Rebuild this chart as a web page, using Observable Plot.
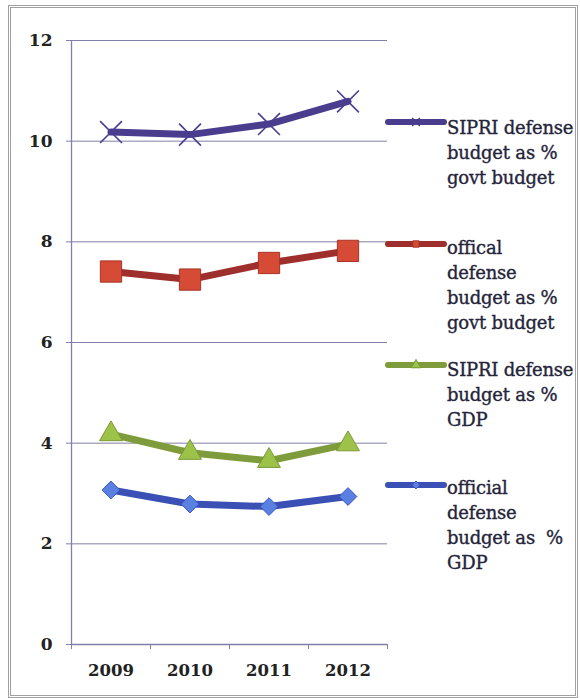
<!DOCTYPE html>
<html>
<head>
<meta charset="utf-8">
<script src="https://cdn.jsdelivr.net/npm/d3@7"></script>
<script src="https://cdn.jsdelivr.net/npm/@observablehq/plot@0.6"></script>
<style>
  body { margin: 0; background: #fff; }
  #wrap { position: relative; width: 580px; height: 698px; overflow: hidden; }
  #frame { position: absolute; left: 8px; top: 5px; width: 564px; height: 687px; border: 3px double #a0a0a0; pointer-events: none; }
  .leg { position: absolute; left: 447px; font-family: "DejaVu Serif", serif; font-size: 18px; line-height: 25px; color: #24243a; white-space: nowrap; -webkit-text-stroke: 0.35px #24243a; letter-spacing: -0.2px; }
  .sw { position: absolute; left: 385px; }
</style>
</head>
<body>
<div id="wrap"><div id="frame"></div></div>
<script>
const years = [2009, 2010, 2011, 2012];
const sipriGovt = [10.18, 10.13, 10.34, 10.79];
const officialGovt = [7.41, 7.25, 7.58, 7.82];
const sipriGdp = [4.18, 3.81, 3.65, 3.98];
const officialGdp = [3.07, 2.79, 2.74, 2.94];
const seriesNames = [
  "SIPRI defense budget as % govt budget",
  "offical defense budget as % govt budget",
  "SIPRI defense budget as % GDP",
  "official defense budget as  % GDP"
];
const legendLines = [
  ["SIPRI defense", "budget as %", "govt budget"],
  ["offical", "defense", "budget as %", "govt budget"],
  ["SIPRI defense", "budget as %", "GDP"],
  ["official", "defense", "budget as  %", "GDP"]
];
const yTicks = [0, 2, 4, 6, 8, 10, 12];

const styles = [
  {line: "#4b3d8e", fill: "none", stroke: "#4b3d8e", symbol: "times", r: 10, sw: 1.6},
  {line: "#9e2f2c", fill: "#d64b36", stroke: "#a83228", symbol: "square", r: 12, sw: 1},
  {line: "#7f9c3d", fill: "#9cc24a", stroke: "#7a9a35", symbol: "triangle", r: 8.5, sw: 1},
  {line: "#3a50b4", fill: "#5a80e2", stroke: "#3a55c0", symbol: "diamond2", r: 8, sw: 1}
];
const values = [sipriGovt, officialGovt, sipriGdp, officialGdp];
const series = seriesNames.map((name, s) => years.map((yr, i) => ({series: name, year: yr, value: values[s][i]})));

const step = years[1] - years[0];
const boundaries = [years[0] - step / 2, ...years.map(y => y + step / 2)];
const axisColor = "#8080a8";

const marks = [
  Plot.gridY(yTicks.slice(1), {stroke: axisColor, strokeOpacity: 1}),
  Plot.ruleX([boundaries[0]], {y1: 0, y2: 12, stroke: axisColor, strokeOpacity: 1, strokeWidth: 1.3}),
  Plot.ruleY([0], {stroke: axisColor, strokeWidth: 1.3}),
  Plot.ruleX(boundaries, {y1: 0, y2: -0.1, stroke: axisColor}),
  Plot.axisY(yTicks, {tickSize: 5, tickPadding: 14, tickFormat: "d", fontSize: 17, fontWeight: "bold", fill: "#222", stroke: axisColor, label: null}),
  Plot.axisX(years, {tickSize: 0, tickPadding: 20, tickFormat: "d", fontSize: 16.5, fontWeight: "bold", fill: "#222", label: null})
];
series.forEach((d, s) => {
  const st = styles[s];
  marks.push(Plot.line(d, {x: "year", y: "value", stroke: st.line, strokeWidth: 7, strokeLinejoin: "round", strokeLinecap: "round"}));
  marks.push(Plot.dot(d, {x: "year", y: "value", symbol: () => st.symbol, r: st.r, fill: st.fill === "none" ? null : st.fill, stroke: st.stroke, strokeWidth: st.sw}));
});

const chart = Plot.plot({
  width: 580,
  height: 698,
  marginLeft: 71,
  marginRight: 193,
  marginTop: 40,
  marginBottom: 54,
  x: {type: "linear", domain: [boundaries[0], boundaries[boundaries.length - 1]], axis: null},
  y: {domain: [0, 12], axis: null},
  symbol: {type: "identity"},
  style: {fontFamily: "DejaVu Serif", background: "transparent"},
  marks
});
const wrap = document.getElementById("wrap");
wrap.insertBefore(chart, wrap.firstChild);

// legend
const legendTops = [115, 235, 357, 475];
const swatchY = [122, 244, 365, 485];
legendLines.forEach((lines, s) => {
  const st = styles[s];
  const div = document.createElement("div");
  div.className = "leg";
  div.style.top = legendTops[s] + "px";
  div.innerHTML = lines.map(l => l.replace(/ /g, "&nbsp;")).join("<br>");
  wrap.appendChild(div);
  const svg = d3.create("svg").attr("class", "sw").attr("width", 62).attr("height", 20)
    .style("top", (swatchY[s] - 10) + "px");
  svg.append("line").attr("x1", 3).attr("x2", 59).attr("y1", 10).attr("y2", 10)
    .attr("stroke", st.line).attr("stroke-width", 6).attr("stroke-linecap", "round");
  const symMap = {times: d3.symbolTimes, square: d3.symbolSquare, triangle: d3.symbolTriangle, diamond2: d3.symbolDiamond2};
  svg.append("path").attr("transform", "translate(31,10)")
    .attr("d", d3.symbol(symMap[st.symbol], 40)())
    .attr("fill", st.fill).attr("stroke", st.stroke).attr("stroke-width", st.sw);
  wrap.appendChild(svg.node());
});
</script>
</body>
</html>
